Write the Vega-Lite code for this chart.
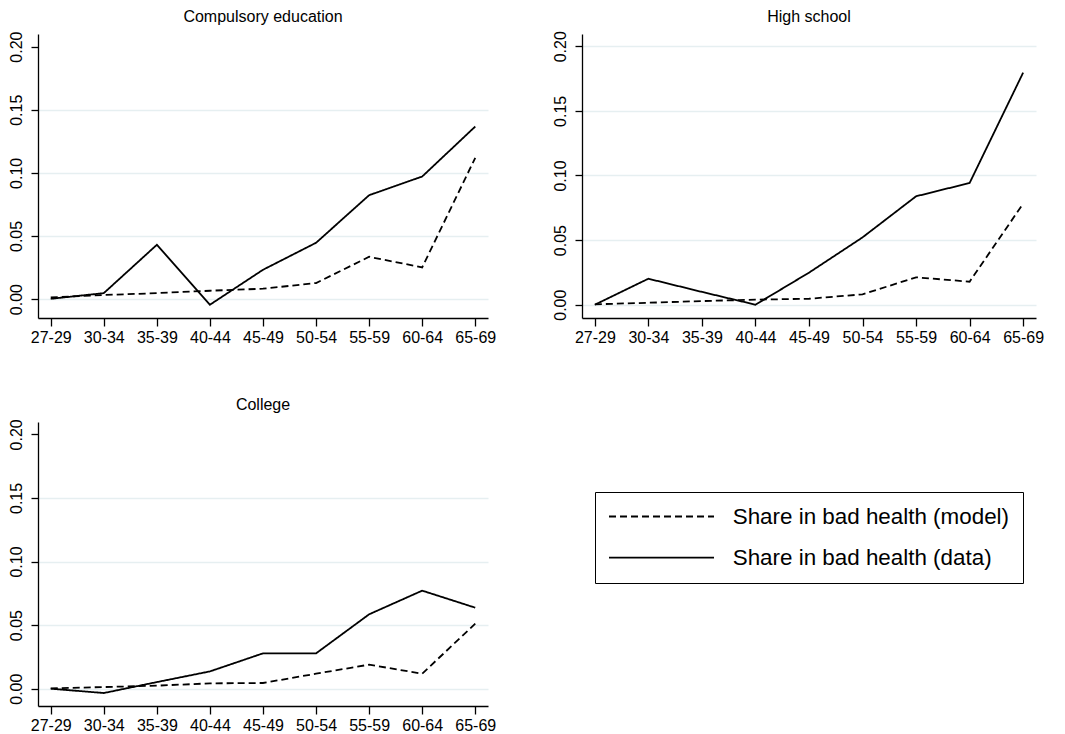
{
  "$schema": "https://vega.github.io/schema/vega-lite/v6.json",
  "padding": {"left": 8, "top": 8, "right": 5, "bottom": 5},
  "background": "white",
  "datasets": {
    "rows": [
      {"edu": "Compulsory education", "age": "27-29", "series": "Share in bad health (data)", "value": 0.0002},
      {"edu": "Compulsory education", "age": "30-34", "series": "Share in bad health (data)", "value": 0.0047},
      {"edu": "Compulsory education", "age": "35-39", "series": "Share in bad health (data)", "value": 0.043},
      {"edu": "Compulsory education", "age": "40-44", "series": "Share in bad health (data)", "value": -0.0045},
      {"edu": "Compulsory education", "age": "45-49", "series": "Share in bad health (data)", "value": 0.0232},
      {"edu": "Compulsory education", "age": "50-54", "series": "Share in bad health (data)", "value": 0.0446},
      {"edu": "Compulsory education", "age": "55-59", "series": "Share in bad health (data)", "value": 0.0823},
      {"edu": "Compulsory education", "age": "60-64", "series": "Share in bad health (data)", "value": 0.0971},
      {"edu": "Compulsory education", "age": "65-69", "series": "Share in bad health (data)", "value": 0.1367},
      {"edu": "Compulsory education", "age": "27-29", "series": "Share in bad health (model)", "value": 0.0013},
      {"edu": "Compulsory education", "age": "30-34", "series": "Share in bad health (model)", "value": 0.0032},
      {"edu": "Compulsory education", "age": "35-39", "series": "Share in bad health (model)", "value": 0.0047},
      {"edu": "Compulsory education", "age": "40-44", "series": "Share in bad health (model)", "value": 0.0066},
      {"edu": "Compulsory education", "age": "45-49", "series": "Share in bad health (model)", "value": 0.0082},
      {"edu": "Compulsory education", "age": "50-54", "series": "Share in bad health (model)", "value": 0.0127},
      {"edu": "Compulsory education", "age": "55-59", "series": "Share in bad health (model)", "value": 0.0335},
      {"edu": "Compulsory education", "age": "60-64", "series": "Share in bad health (model)", "value": 0.0251},
      {"edu": "Compulsory education", "age": "65-69", "series": "Share in bad health (model)", "value": 0.1119},
      {"edu": "High school", "age": "27-29", "series": "Share in bad health (data)", "value": 0.0},
      {"edu": "High school", "age": "30-34", "series": "Share in bad health (data)", "value": 0.0201},
      {"edu": "High school", "age": "35-39", "series": "Share in bad health (data)", "value": 0.0099},
      {"edu": "High school", "age": "40-44", "series": "Share in bad health (data)", "value": 0.0},
      {"edu": "High school", "age": "45-49", "series": "Share in bad health (data)", "value": 0.0248},
      {"edu": "High school", "age": "50-54", "series": "Share in bad health (data)", "value": 0.0521},
      {"edu": "High school", "age": "55-59", "series": "Share in bad health (data)", "value": 0.0839},
      {"edu": "High school", "age": "60-64", "series": "Share in bad health (data)", "value": 0.0942},
      {"edu": "High school", "age": "65-69", "series": "Share in bad health (data)", "value": 0.1796},
      {"edu": "High school", "age": "27-29", "series": "Share in bad health (model)", "value": 0.0003},
      {"edu": "High school", "age": "30-34", "series": "Share in bad health (model)", "value": 0.0015},
      {"edu": "High school", "age": "35-39", "series": "Share in bad health (model)", "value": 0.0028},
      {"edu": "High school", "age": "40-44", "series": "Share in bad health (model)", "value": 0.0039},
      {"edu": "High school", "age": "45-49", "series": "Share in bad health (model)", "value": 0.0046},
      {"edu": "High school", "age": "50-54", "series": "Share in bad health (model)", "value": 0.008},
      {"edu": "High school", "age": "55-59", "series": "Share in bad health (model)", "value": 0.0212},
      {"edu": "High school", "age": "60-64", "series": "Share in bad health (model)", "value": 0.0178},
      {"edu": "High school", "age": "65-69", "series": "Share in bad health (model)", "value": 0.0782},
      {"edu": "College", "age": "27-29", "series": "Share in bad health (data)", "value": 0.0},
      {"edu": "College", "age": "30-34", "series": "Share in bad health (data)", "value": -0.0034},
      {"edu": "College", "age": "35-39", "series": "Share in bad health (data)", "value": 0.0052},
      {"edu": "College", "age": "40-44", "series": "Share in bad health (data)", "value": 0.0136},
      {"edu": "College", "age": "45-49", "series": "Share in bad health (data)", "value": 0.0278},
      {"edu": "College", "age": "50-54", "series": "Share in bad health (data)", "value": 0.0278},
      {"edu": "College", "age": "55-59", "series": "Share in bad health (data)", "value": 0.0585},
      {"edu": "College", "age": "60-64", "series": "Share in bad health (data)", "value": 0.0771},
      {"edu": "College", "age": "65-69", "series": "Share in bad health (data)", "value": 0.0637},
      {"edu": "College", "age": "27-29", "series": "Share in bad health (model)", "value": 0.0003},
      {"edu": "College", "age": "30-34", "series": "Share in bad health (model)", "value": 0.0013},
      {"edu": "College", "age": "35-39", "series": "Share in bad health (model)", "value": 0.0024},
      {"edu": "College", "age": "40-44", "series": "Share in bad health (model)", "value": 0.0042},
      {"edu": "College", "age": "45-49", "series": "Share in bad health (model)", "value": 0.0045},
      {"edu": "College", "age": "50-54", "series": "Share in bad health (model)", "value": 0.0118},
      {"edu": "College", "age": "55-59", "series": "Share in bad health (model)", "value": 0.0189},
      {"edu": "College", "age": "60-64", "series": "Share in bad health (model)", "value": 0.0118},
      {"edu": "College", "age": "65-69", "series": "Share in bad health (model)", "value": 0.0511}
    ]
  },
  "data": {"name": "rows"},
  "columns": 2,
  "bounds": "flush",
  "spacing": {"column": 94, "row": 104},
  "resolve": {"legend": {"strokeDash": "independent"}, "scale": {"y": "independent"}},
  "concat": [
    {
      "title": "Compulsory education",
      "width": 450, "height": 284,
      "transform": [{"filter": "datum.edu === 'Compulsory education'"}],
      "mark": {"type": "line", "color": "black", "strokeWidth": 1.8},
      "encoding": {
        "x": {"field": "age", "type": "ordinal", "sort": null,
              "scale": {"type": "point", "padding": 0.24},
              "axis": {"title": null, "labelAngle": 0, "tickSize": 8, "labelPadding": 3, "grid": false}},
        "y": {"field": "value", "type": "quantitative",
              "scale": {"domain": [-0.015, 0.21], "nice": false, "zero": false},
              "axis": {"title": null, "values": [0, 0.05, 0.1, 0.15, 0.2], "format": ".2f", "labelAngle": -90,
                       "labelAlign": "center", "labelBaseline": "bottom", "tickSize": 7, "labelPadding": 7,
                       "grid": true, "gridColor": "#e6eff1", "gridWidth": 1.4,
                       "gridOpacity": {"condition": {"test": "datum.value >= 0.19", "value": 0}, "value": 1}}},
        "strokeDash": {"field": "series", "type": "nominal",
                       "scale": {"domain": ["Share in bad health (model)", "Share in bad health (data)"], "range": [[7, 4], [1, 0]]},
                       "legend": null}
      }
    },
    {
      "title": "High school",
      "width": 454, "height": 284,
      "transform": [{"filter": "datum.edu === 'High school'"}],
      "mark": {"type": "line", "color": "black", "strokeWidth": 1.8},
      "encoding": {
        "x": {"field": "age", "type": "ordinal", "sort": null,
              "scale": {"type": "point", "padding": 0.24},
              "axis": {"title": null, "labelAngle": 0, "tickSize": 8, "labelPadding": 3, "grid": false}},
        "y": {"field": "value", "type": "quantitative",
              "scale": {"domain": [-0.0103, 0.2095], "nice": false, "zero": false},
              "axis": {"title": null, "values": [0, 0.05, 0.1, 0.15, 0.2], "format": ".2f", "labelAngle": -90,
                       "labelAlign": "center", "labelBaseline": "bottom", "tickSize": 7, "labelPadding": 7,
                       "grid": true, "gridColor": "#e6eff1", "gridWidth": 1.4}},
        "strokeDash": {"field": "series", "type": "nominal",
                       "scale": {"domain": ["Share in bad health (model)", "Share in bad health (data)"], "range": [[7, 4], [1, 0]]},
                       "legend": null}
      }
    },
    {
      "title": "College",
      "width": 450, "height": 284,
      "transform": [{"filter": "datum.edu === 'College'"}],
      "mark": {"type": "line", "color": "black", "strokeWidth": 1.8},
      "encoding": {
        "x": {"field": "age", "type": "ordinal", "sort": null,
              "scale": {"type": "point", "padding": 0.24},
              "axis": {"title": null, "labelAngle": 0, "tickSize": 8, "labelPadding": 3, "grid": false}},
        "y": {"field": "value", "type": "quantitative",
              "scale": {"domain": [-0.0136, 0.2097], "nice": false, "zero": false},
              "axis": {"title": null, "values": [0, 0.05, 0.1, 0.15, 0.2], "format": ".2f", "labelAngle": -90,
                       "labelAlign": "center", "labelBaseline": "bottom", "tickSize": 7, "labelPadding": 7,
                       "grid": true, "gridColor": "#e6eff1", "gridWidth": 1.4,
                       "gridOpacity": {"condition": {"test": "datum.value >= 0.19", "value": 0}, "value": 1}}},
        "strokeDash": {"field": "series", "type": "nominal",
                       "scale": {"domain": ["Share in bad health (model)", "Share in bad health (data)"], "range": [[6, 4.5], [1, 0]]},
                       "legend": {"orient": "none", "legendX": 557, "legendY": 70, "title": null,
                                  "strokeColor": "black", "fillColor": "white", "padding": 13,
                                  "symbolType": "M-1,0H9", "symbolSize": 441, "symbolStrokeWidth": 1.8,
                                  "symbolStrokeColor": "black", "symbolFillColor": "transparent",
                                  "labelFontSize": 22.4, "labelOffset": 101.7,
                                  "rowPadding": 18.2, "labelLimit": 400, "labelColor": "black",
                                  "labelExpr": "datum.label + '  '"}}
      }
    }
  ],
  "config": {
    "font": "Liberation Sans",
    "view": {"stroke": null},
    "axis": {"domainColor": "black", "domainWidth": 1.3, "tickColor": "black", "tickWidth": 1.3,
             "labelColor": "black", "labelFontSize": 16, "labelFont": "Liberation Sans"},
    "title": {"fontSize": 16, "fontWeight": "normal", "color": "black", "offset": 6, "font": "Liberation Sans"},
    "legend": {"labelFont": "Liberation Sans"}
  }
}
